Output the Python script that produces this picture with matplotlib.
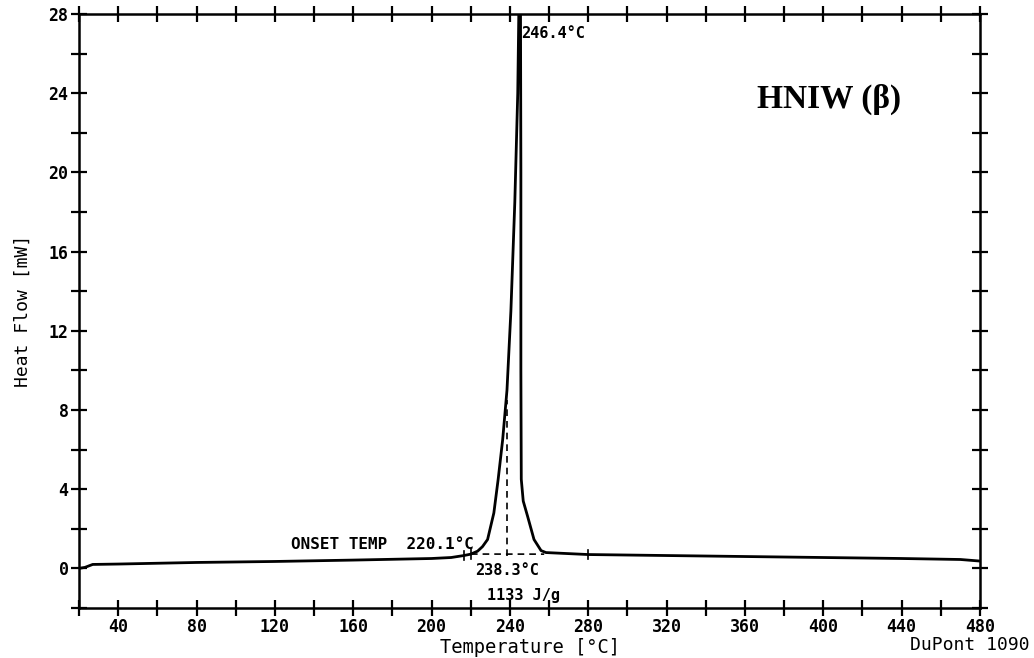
import numpy as np
import matplotlib.pyplot as plt
from matplotlib.ticker import MultipleLocator

# DSC trace (temperature in degC, heat flow in mW)
temp = [20, 23, 27, 40, 80, 120, 160, 200, 210, 216.5, 220, 223.5, 226, 228.6,
        231.8, 234.0, 236.3, 238.5, 240.5, 242.5, 244.0, 244.6,
        245.4, 245.6, 245.6, 245.8, 246.8, 249.0, 252.3, 255.9, 258.4,
        280, 320, 360, 400, 440, 470, 480]
heat_flow = [0.0, 0.05, 0.2, 0.22, 0.3, 0.35, 0.42, 0.5, 0.55, 0.65, 0.72, 0.87, 1.1, 1.46,
             2.8, 4.5, 6.5, 9.0, 13.0, 18.5, 24.0, 28.5,
             28.5, 20.0, 10.0, 4.5, 3.4, 2.64, 1.46, 0.9, 0.8,
             0.7, 0.65, 0.6, 0.55, 0.5, 0.45, 0.37]

x_ticks = [40, 80, 120, 160, 200, 240, 280, 320, 360, 400, 440, 480]
y_ticks = [0, 4, 8, 12, 16, 20, 24, 28]

onset_t = 220.1
mid_t = 238.3
limit_marks = [216.5, 220.1, 280]

mono = 'DejaVu Sans Mono'

fig = plt.figure(figsize=(10.34, 6.58), dpi=100)
ax = fig.add_axes([79 / 1034, 1 - 608 / 658, 901 / 1034, 594 / 658])

ax.plot(temp, heat_flow, color='black', linewidth=2.0, clip_on=True)

# construction lines
base_y = np.interp(onset_t, temp, heat_flow)
ax.plot([onset_t, 257.5], [base_y, 0.72], color='black', linestyle=(0, (4, 3)), linewidth=1.2)
ax.plot([mid_t, mid_t], [0.62, 8.5], color='black', linestyle=(0, (4, 3)), linewidth=1.2)
for t in limit_marks:
    y = np.interp(t, temp, heat_flow)
    ax.plot([t, t], [y - 0.25, y + 0.25], color='black', linewidth=1.2)

ax.set_xlim(20, 480)
ax.set_ylim(-2, 28)
ax.xaxis.set_minor_locator(MultipleLocator(20))
ax.yaxis.set_minor_locator(MultipleLocator(2))
ax.set_xticks(x_ticks)
ax.set_yticks(y_ticks)
ax.tick_params(which='both', direction='inout', top=True, right=True, width=1.6,
               length=11)
ax.tick_params(which='major', labelsize=12, pad=2)
for lab in ax.get_xticklabels() + ax.get_yticklabels():
    lab.set_family(mono)
    lab.set_fontweight('bold')
for s in ax.spines.values():
    s.set_linewidth(1.8)

ax.set_xlabel('Temperature [\u00b0C]', family=mono, fontsize=13.5, labelpad=1)
ax.set_ylabel('Heat Flow [mW]', family=mono, fontsize=13, labelpad=12)

ax.text(245.8, 27.0, '246.4\u00b0C', family=mono, fontsize=11, fontweight='bold',
        ha='left', va='center')
ax.text(221.5, 1.2, 'ONSET TEMP  220.1\u00b0C', family=mono, fontsize=11.5,
        fontweight='bold', ha='right', va='center')
ax.text(238.5, -0.1, '238.3\u00b0C', family=mono, fontsize=11, fontweight='bold',
        ha='center', va='center')
ax.text(247, -1.35, '1133 J/g', family=mono, fontsize=11, fontweight='bold',
        ha='center', va='center')
ax.text(403, 23.7, 'HNIW (\u03b2)', family='Liberation Serif', fontweight='bold',
        fontsize=24, ha='center', va='center')
fig.text(1030 / 1034, 1 - 645 / 658, 'DuPont 1090', family=mono, fontsize=13,
         ha='right', va='center')

fig.savefig('out.png', dpi=100)
